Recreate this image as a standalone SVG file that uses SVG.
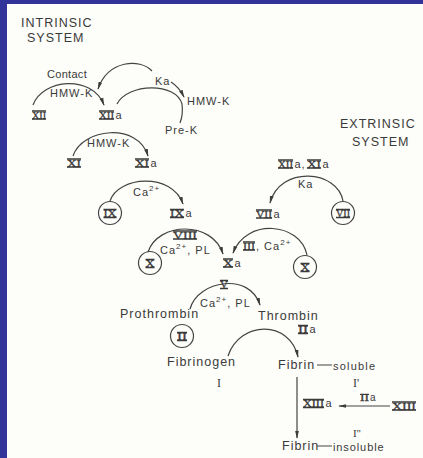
<svg xmlns="http://www.w3.org/2000/svg" width="423" height="458" viewBox="0 0 423 458">
<defs>
<marker id="ah" viewBox="0 0 10 6" refX="9" refY="3" markerWidth="8" markerHeight="5" markerUnits="userSpaceOnUse" orient="auto">
<path d="M0,0.6 L10,3 L0,5.4 Z" fill="#3c3c3c"/>
</marker>
<style>
.t{font-family:"Liberation Sans",Arial,sans-serif;font-size:11px;fill:#3a3a3a;letter-spacing:1px}
.h{font-size:12.5px;letter-spacing:1px}
.s{font-size:12.5px;letter-spacing:1px}
.sup{font-size:8px}
.rn{font-family:"Liberation Serif","Times New Roman",serif;font-size:11px;fill:#3a3a3a;stroke:#3a3a3a;stroke-width:0.3}
.pr{font-family:"Liberation Serif","Times New Roman",serif;font-size:11px;fill:#3a3a3a}
.bar{stroke:#3a3a3a;stroke-width:1.3;fill:none}
.c{fill:none;stroke:#444;stroke-width:1.2}
.ln{fill:none;stroke:#444;stroke-width:1.2}
.ar{fill:none;stroke:#444;stroke-width:1.2;marker-end:url(#ah)}
</style>
</defs>
<rect x="0" y="0" width="423" height="458" fill="#32349a"/>
<rect x="7" y="4" width="416" height="454" fill="#fdfdf9"/>

<g id="connectors">
<path class="ar" d="M33,105 C42,79 92,74 104,105"/>
<path class="ar" d="M152,71 C140,58 108,60 98,89"/>
<path class="ar" d="M171,82 Q179,87 184,97"/>
<path class="ln" d="M117,104 C128,83 176,82 182,104 C183,112 182,118 180,123"/>
<path class="ar" d="M73,156 C82,128 138,122 148,156"/>
<path class="ar" d="M110,201 C118,176 172,172 183,204"/>
<path class="ar" d="M148,252 C158,222 212,220 223,254"/>
<path class="ar" d="M307,255 C300,222 246,218 233,253"/>
<path class="ar" d="M343,201 C338,170 280,165 270,203"/>
<path class="ar" d="M190,309 C198,280 250,272 260,305"/>
<path class="ar" d="M228,356 C240,320 290,320 298,357"/>
<path class="ar" d="M297,377 V438"/>
<path class="ar" d="M390,406 H339"/>
<path class="ln" d="M317,365 H332 M317,446 H332"/>
</g>

<g id="intrinsic-label">
<text class="t h" x="21" y="27">INTRINSIC</text>
<text class="t h" x="27" y="42">SYSTEM</text>
</g>
<g id="extrinsic-label">
<text class="t h" x="340" y="128">EXTRINSIC</text>
<text class="t h" x="352" y="146">SYSTEM</text>
</g>

<g id="contact">
<text class="t" x="47" y="78" style="letter-spacing:0.3px">Contact</text>
<text class="t" x="50" y="97">HMW-K</text>
</g>
<g id="XII">
<text class="rn" x="32" y="118.5" textLength="14" lengthAdjust="spacingAndGlyphs">XII</text>
<path class="bar" d="M32,111 H46 M32,119 H46"/>
</g>
<g id="XIIa">
<text class="rn" x="99" y="118.5" textLength="15" lengthAdjust="spacingAndGlyphs">XII</text>
<path class="bar" d="M99,111 H114 M99,119 H114"/>
<text class="t" x="115.5" y="118.5">a</text>
</g>
<g id="Ka-top"><text class="t" x="155" y="85">Ka</text></g>
<g id="HMW-K-right"><text class="t" x="187" y="105">HMW-K</text></g>
<g id="Pre-K"><text class="t" x="165" y="134">Pre-K</text></g>

<g id="XI">
<text class="rn" x="67" y="166.5" textLength="14" lengthAdjust="spacingAndGlyphs">XI</text>
<path class="bar" d="M67,159 H81 M67,167 H81"/>
</g>
<g id="HMW-K-2"><text class="t" x="87" y="147">HMW-K</text></g>
<g id="XIa">
<text class="rn" x="135" y="166.5" textLength="14" lengthAdjust="spacingAndGlyphs">XI</text>
<path class="bar" d="M135,159 H149 M135,167 H149"/>
<text class="t" x="150.5" y="166.5">a</text>
</g>

<g id="IX">
<circle class="c" cx="110" cy="213" r="11.5"/>
<text class="rn" x="103.5" y="217" textLength="13" lengthAdjust="spacingAndGlyphs">IX</text>
<path class="bar" d="M103.5,209.5 H116.5 M103.5,217.5 H116.5"/>
</g>
<g id="Ca-IX"><text class="t" x="133" y="196">Ca<tspan class="sup" dy="-5">2+</tspan></text></g>
<g id="IXa">
<text class="rn" x="170" y="217" textLength="14" lengthAdjust="spacingAndGlyphs">IX</text>
<path class="bar" d="M170,209.5 H184 M170,217.5 H184"/>
<text class="t" x="185.5" y="217">a</text>
</g>

<g id="XIIa-XIa">
<text class="rn" x="278" y="167.5" textLength="15" lengthAdjust="spacingAndGlyphs">XII</text>
<path class="bar" d="M278,160 H293 M278,168 H293"/>
<text class="t" x="294.5" y="167.5">a,</text>
<text class="rn" x="307" y="167.5" textLength="14" lengthAdjust="spacingAndGlyphs">XI</text>
<path class="bar" d="M307,160 H321 M307,168 H321"/>
<text class="t" x="322.5" y="167.5">a</text>
</g>
<g id="Ka-ext"><text class="t" x="298" y="188">Ka</text></g>
<g id="VII">
<circle class="c" cx="343" cy="213" r="11.5"/>
<text class="rn" x="336" y="217" textLength="14" lengthAdjust="spacingAndGlyphs">VII</text>
<path class="bar" d="M336,209.5 H350 M336,217.5 H350"/>
</g>
<g id="VIIa">
<text class="rn" x="256" y="217.5" textLength="16" lengthAdjust="spacingAndGlyphs">VII</text>
<path class="bar" d="M256,210 H272 M256,218 H272"/>
<text class="t" x="273.5" y="217.5">a</text>
</g>

<g id="X-left">
<circle class="c" cx="150" cy="263" r="11.5"/>
<text class="rn" x="145.5" y="267" textLength="9" lengthAdjust="spacingAndGlyphs">X</text>
<path class="bar" d="M145.5,259.5 H154.5 M145.5,267.5 H154.5"/>
</g>
<g id="VIII-cofactor">
<text class="rn" x="173" y="238.5" textLength="24" lengthAdjust="spacingAndGlyphs">VIII</text>
<path class="bar" d="M173,231 H197 M173,239 H197"/>
<text class="t" x="160" y="254">Ca<tspan class="sup" dy="-5">2+</tspan><tspan dy="5">, PL</tspan></text>
</g>
<g id="III-cofactor">
<text class="rn" x="243" y="249.5" textLength="12" lengthAdjust="spacingAndGlyphs">III</text>
<path class="bar" d="M243,242 H255 M243,250 H255"/>
<text class="t" x="256" y="249.5">, Ca<tspan class="sup" dy="-5">2+</tspan></text>
</g>
<g id="X-right">
<circle class="c" cx="305" cy="267" r="11.5"/>
<text class="rn" x="300.5" y="271" textLength="9" lengthAdjust="spacingAndGlyphs">X</text>
<path class="bar" d="M300.5,263.5 H309.5 M300.5,271.5 H309.5"/>
</g>
<g id="Xa">
<text class="rn" x="223" y="266.5" textLength="10" lengthAdjust="spacingAndGlyphs">X</text>
<path class="bar" d="M223,259 H233 M223,267 H233"/>
<text class="t" x="234.5" y="266.5">a</text>
</g>

<g id="V-cofactor">
<text class="rn" x="220" y="288" textLength="8" lengthAdjust="spacingAndGlyphs">V</text>
<path class="bar" d="M220,280.5 H228 M220,288.5 H228"/>
<text class="t" x="200" y="307">Ca<tspan class="sup" dy="-5">2+</tspan><tspan dy="5">, PL</tspan></text>
</g>
<g id="Prothrombin">
<text class="t s" x="120" y="318">Prothrombin</text>
<circle class="c" cx="182" cy="336" r="11.5"/>
<text class="rn" x="177" y="340" textLength="10" lengthAdjust="spacingAndGlyphs">II</text>
<path class="bar" d="M177,332.5 H187 M177,340.5 H187"/>
</g>
<g id="Thrombin">
<text class="t s" x="258" y="320">Thrombin</text>
<text class="rn" x="298" y="333" textLength="10" lengthAdjust="spacingAndGlyphs">II</text>
<path class="bar" d="M298,325.5 H308 M298,333.5 H308"/>
<text class="t" x="309.5" y="333">a</text>
</g>
<g id="Fibrinogen">
<text class="t s" x="167" y="366">Fibrinogen</text>
<text class="pr" x="217" y="387" style="font-size:12px">I</text>
</g>
<g id="Fibrin-soluble">
<text class="t s" x="278" y="369">Fibrin</text>
<text class="t" x="333" y="370" style="letter-spacing:1.2px">soluble</text>
<text class="pr" x="353" y="387" style="font-size:12px">I'</text>
</g>
<g id="XIIIa">
<text class="rn" x="303" y="407" textLength="21" lengthAdjust="spacingAndGlyphs">XIII</text>
<path class="bar" d="M303,399.5 H324 M303,407.5 H324"/>
<text class="t" x="325.5" y="407">a</text>
</g>
<g id="IIa-small">
<text class="rn" x="360" y="401" textLength="9" lengthAdjust="spacingAndGlyphs" style="font-size:10px">II</text>
<path class="bar" d="M360,394.5 H369" style="stroke-width:1"/>
<text class="t" x="370" y="401" style="font-size:10px">a</text>
</g>
<g id="XIII">
<text class="rn" x="392" y="409.5" textLength="24" lengthAdjust="spacingAndGlyphs">XIII</text>
<path class="bar" d="M392,402 H416 M392,410 H416"/>
</g>
<g id="Fibrin-insoluble">
<text class="pr" x="353" y="437" style="font-size:11px">I''</text>
<text class="t s" x="282" y="450">Fibrin</text>
<text class="t" x="333" y="451" style="letter-spacing:0.9px">insoluble</text>
</g>
</svg>
